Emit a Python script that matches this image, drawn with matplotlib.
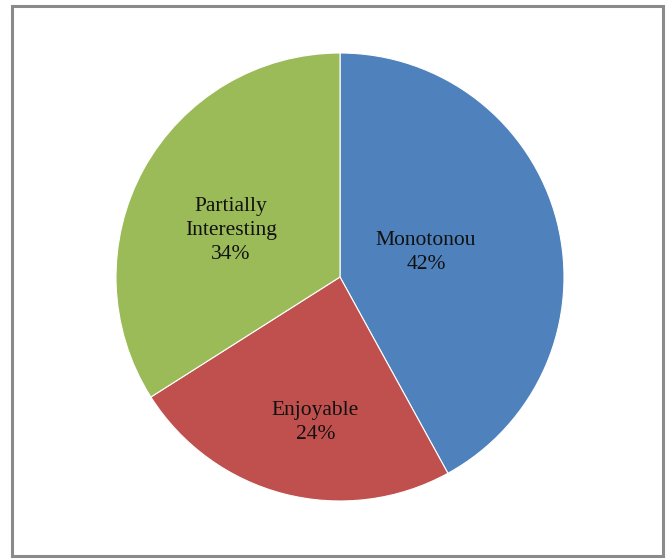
import matplotlib
matplotlib.use("Agg")
import matplotlib.pyplot as plt
from matplotlib.patches import Rectangle
import numpy as np

categories = ["Monotonou", "Enjoyable", "Partially\nInteresting"]
values = [42, 24, 34]
colors = ["#4F81BD", "#C0504D", "#9BBB59"]
# label radial distance (fraction of radius) and angle (deg)
label_r = [0.40, 0.66, 0.53]
label_ang = [16, -99.6, 157]

W, H = 666, 559
fig = plt.figure(figsize=(W / 100, H / 100), dpi=100)
fig.patch.set_facecolor("white")

R = 224
cx, cy = 340, 277
ax = fig.add_axes([(cx - R) / W, 1 - (cy + R) / H, 2 * R / W, 2 * R / H])
wedges, _ = ax.pie(values, colors=colors, startangle=90, counterclock=False,
                   radius=1.0, wedgeprops=dict(edgecolor="white", linewidth=0.8))
ax.set_xlim(-1, 1)
ax.set_ylim(-1, 1)
ax.set_aspect("equal")
ax.axis("off")

for cat, v, r, a in zip(categories, values, label_r, label_ang):
    x = r * np.cos(np.radians(a))
    y = r * np.sin(np.radians(a))
    ax.text(x, y, f"{cat}\n{v}%", ha="center", va="center",
            family="Liberation Serif", fontsize=15.5, color="#111111",
            linespacing=1.35)

fig.add_artist(Rectangle((12 / W, 1 - 556 / H), (663 - 12) / W, (556 - 6) / H,
                         transform=fig.transFigure, fill=False,
                         edgecolor="#8a8a8a", linewidth=2.2))

fig.savefig("out.png", dpi=100)
